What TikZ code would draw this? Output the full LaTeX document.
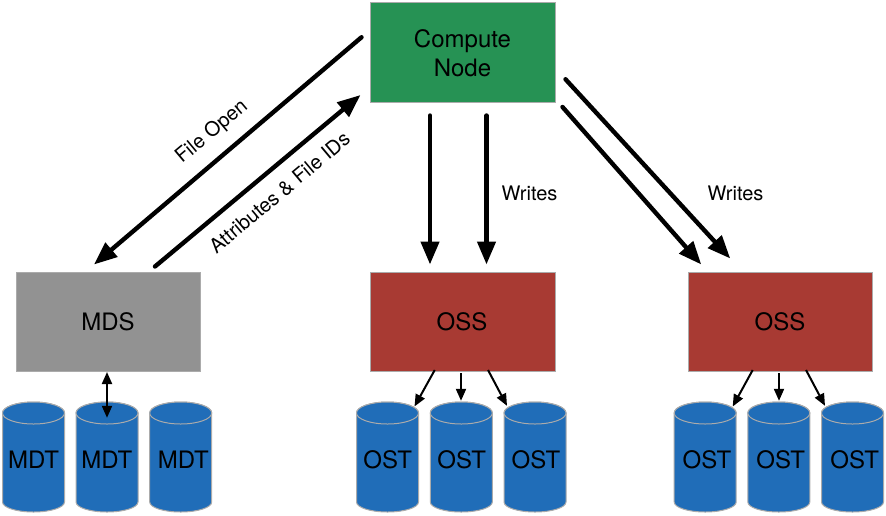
\documentclass[tikz,border=0pt]{standalone}
\usepackage{fontspec}
\setmainfont{TeX Gyre Heros}
\usetikzlibrary{arrows.meta}
\definecolor{cgreen}{HTML}{269254}
\definecolor{cred}{HTML}{A83A33}
\definecolor{cgray}{HTML}{929292}
\definecolor{cblue}{HTML}{206DB8}
\definecolor{cedge}{HTML}{ABABAB}
\tikzset{
  boxnode/.style={rectangle,draw=cedge,line width=1pt,minimum width=184.5pt,minimum height=99.5pt,inner sep=0pt},
  boxtext/.style={inner sep=0pt,align=center,font=\fontsize{24}{29}\selectfont},
  drumlabel/.style={rectangle,minimum width=62pt,minimum height=110pt,inner sep=0pt},
  drumtext/.style={inner sep=0pt,font=\fontsize{24}{28}\selectfont},
  drumbody/.style={fill=cblue,draw=cedge,line width=1pt},
  bigarrow/.style={line width=4.4pt,line cap=round,-{Triangle[length=23pt,width=18pt]}},
  smallarrow/.style={line width=2pt,-{Triangle[length=12pt,width=10pt]}},
  bothsmall/.style={line width=2pt,{Triangle[length=12pt,width=10pt]}-{Triangle[length=12pt,width=10pt]}},
  lbl/.style={inner sep=0pt,font=\fontsize{20}{22}\selectfont}
}
% name, drum centre x, text centre x, text
\newcommand{\drum}[4]{%
  \path[drumbody] (#2-31,413) -- (#2-31,502) arc[start angle=180,end angle=0,x radius=31,y radius=10] -- (#2+31,413) arc[start angle=0,end angle=-180,x radius=31,y radius=11] -- cycle;
  \path[drumbody] (#2-31,413) arc[start angle=180,end angle=540,x radius=31,y radius=11];
  \node[drumlabel] (#1) at (#2,457) {};
  \node[drumtext] (#1t) at (#3,459.5) {#4};
}
\begin{document}
\begin{tikzpicture}[x=1pt,y=-1pt]
\useasboundingbox[fill=white] (0,0) rectangle (886,515);
\node[boxnode,fill=cgreen] (cn) at (462.75,52.25) {};
\node[boxnode,fill=cgray] (mds) at (108.5,321.75) {};
\node[boxnode,fill=cred] (oss1) at (462.75,321.75) {};
\node[boxnode,fill=cred] (oss2) at (780.5,321.75) {};
\node[boxtext] (cnt) at (462.5,53) {Compute\\Node};
\node[boxtext] (mdst) at (108,321.75) {MDS};
\node[boxtext] (oss1t) at (462,321.75) {OSS};
\node[boxtext] (oss2t) at (780,321.75) {OSS};
\drum{mdta}{33.5}{33.5}{MDT}
\drum{mdtb}{107}{106.8}{MDT}
\drum{mdtc}{180.7}{183.3}{MDT}
\drum{osta}{387.5}{387.8}{OST}
\drum{ostb}{461.3}{461.7}{OST}
\drum{ostc}{535}{536}{OST}
\drum{ostd}{705.2}{707}{OST}
\drum{oste}{778.8}{780.7}{OST}
\drum{ostf}{852.5}{854.7}{OST}
% large connectors
\draw[bigarrow] ([shift={(-8.5,-15)}]cn.west) -- ([shift={(-14.5,-7)}]mds.north);
\draw[bigarrow] ([shift={(46.5,-5)}]mds.north) -- ([shift={(-9.5,-7.5)}]cn.south west);
\draw[bigarrow] ([shift={(-32.75,13)}]cn.south) -- ([shift={(-32.75,-7)}]oss1.north);
\draw[bigarrow] ([shift={(23.75,13)}]cn.south) -- ([shift={(23.75,-7)}]oss1.north);
\draw[bigarrow] ([shift={(10,27)}]cn.east) -- ([shift={(42.5,-13)}]oss2.north west);
\draw[bigarrow] ([shift={(7,4.5)}]cn.south east) -- ([shift={(13.5,-7)}]oss2.north west);
% small connectors
\draw[bothsmall] ([shift={(-1.5,0)}]mds.south) -- ([shift={(0,16)}]mdtb.north);
\draw[smallarrow] ([shift={(-28,-2)}]oss1.south) -- ([shift={(27,4.7)}]osta.north);
\draw[smallarrow] ([shift={(-1.75,1)}]oss1.south) -- ([shift={(-0.3,-1)}]ostb.north);
\draw[smallarrow] ([shift={(25.25,-2)}]oss1.south) -- ([shift={(-28,4)}]ostc.north);
\draw[smallarrow] ([shift={(-27.8,-2)}]oss2.south) -- ([shift={(27.5,4.7)}]ostd.north);
\draw[smallarrow] ([shift={(-1.5,1)}]oss2.south) -- ([shift={(0.2,-1)}]oste.north);
\draw[smallarrow] ([shift={(25.5,-2)}]oss2.south) -- ([shift={(-27.5,4)}]ostf.north);
% labels
\node[lbl,rotate=40] (l1) at (212,132) {File Open};
\node[lbl,rotate=40] (l2) at (279.5,192.5) {Attributes \& File IDs};
\node[lbl] (l3) at (529.5,193.5) {Writes};
\node[lbl] (l4) at (735.5,193.5) {Writes};
\end{tikzpicture}
\end{document}
